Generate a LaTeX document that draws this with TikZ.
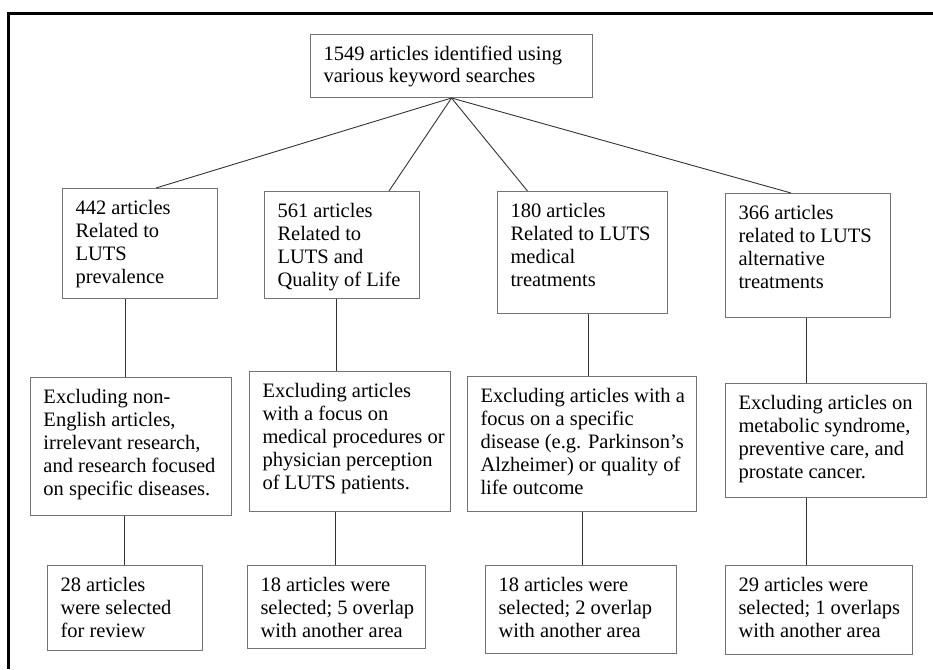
\documentclass[tikz,border=0pt]{standalone}
\usepackage{fontspec}
\setmainfont{Liberation Serif}
\newcommand{\boxtext}[3]{\parbox[c][#2pt][t]{#1pt}{\raggedright\leftskip=13pt\rule{0pt}{26pt}#3}}
\tikzset{
  stage/.style={draw=black!55, line width=1pt, anchor=north west, inner sep=0pt,
    font=\fontsize{20.5}{23}\selectfont},
  link/.style={draw=black!80, line width=0.9pt}
}
\begin{document}
\begin{tikzpicture}[x=1pt,y=-1pt]
  \useasboundingbox (0,0) rectangle (933,669);
  \draw[line width=3pt] (933,14) -- (8,14) -- (8,669);

  \node[stage, font=\fontsize{20.5}{21.5}\selectfont] (top) at (310,34) {\boxtext{282}{63}{1549 articles identified using\\various keyword searches}};

  \node[stage] (prev) at (62,188) {\boxtext{155}{110}{442 articles\\Related to\\LUTS\\prevalence}};
  \node[stage] (qol) at (264,191) {\boxtext{155}{107}{561 articles\\Related to\\LUTS and\\Quality of Life}};
  \node[stage] (med) at (497,191) {\boxtext{170}{122}{180 articles\\Related to LUTS\\medical\\treatments}};
  \node[stage] (alt) at (725,193) {\boxtext{165}{124}{366 articles\\related to LUTS\\alternative\\treatments}};

  \node[stage] (prevx) at (30,377) {\boxtext{201}{138}{Excluding non-\\English articles,\\irrelevant research,\\and research focused\\on specific diseases.}};
  \node[stage] (qolx) at (249,371) {\boxtext{201}{140}{Excluding articles\\with a focus on\\medical procedures or\\physician perception\\of LUTS patients.}};
  \node[stage] (medx) at (467,376) {\boxtext{229}{135}{Excluding articles with a\\focus on a specific\\disease (e.g. Parkinson’s\\Alzheimer) or quality of\\life outcome}};
  \node[stage] (altx) at (725,383) {\boxtext{201}{114}{Excluding articles on\\metabolic syndrome,\\preventive care, and\\prostate cancer.}};

  \node[stage] (prevsel) at (47,565) {\boxtext{155}{85}{28 articles\\were selected\\for review}};
  \node[stage] (qolsel) at (247,565) {\boxtext{178}{83}{18 articles were\\selected; 5 overlap\\with another area}};
  \node[stage] (medsel) at (485,565) {\boxtext{191}{88}{18 articles were\\selected; 2 overlap\\with another area}};
  \node[stage] (altsel) at (725,565) {\boxtext{187}{89}{29 articles were\\selected; 1 overlaps\\with another area}};

  \foreach \b/\s in {prev/16,qol/47,med/-55,alt/-17}
    \draw[link] (top.south) -- ([xshift=\s]\b.north);

  \foreach \a/\b/\c/\u/\v in {prev/prevx/prevsel/125/124,qol/qolx/qolsel/336/335,med/medx/medsel/588/582,alt/altx/altsel/806/806}
  {
    \coordinate (u) at (\u,0);
    \coordinate (v) at (\v,0);
    \draw[link] (u |- \a.south) -- (u |- \b.north);
    \draw[link] (v |- \b.south) -- (v |- \c.north);
  }
\end{tikzpicture}
\end{document}
